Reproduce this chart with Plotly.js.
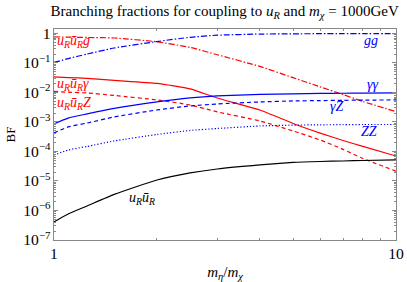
<!DOCTYPE html>
<html><head><meta charset="utf-8">
<script src="https://cdn.plot.ly/plotly-3.0.1.min.js"></script>
<style>html,body{margin:0;padding:0;background:#fff}#c{width:407px;height:282px}</style>
</head><body><div id="c"></div>
<script>
const ratio = [1, 1.1, 1.25, 1.5, 2, 2.5, 3, 4, 5, 6, 7, 8, 10];
const bfUUg   = [0.76, 0.75, 0.73, 0.70, 0.52, 0.335, 0.19, 0.076, 0.0317, 0.0155, 0.0085, 0.00495, 0.00224];
const bfGG    = [0.104, 0.14, 0.20, 0.32, 0.53, 0.74, 0.87, 0.95, 0.97, 0.98, 0.985, 0.988, 0.99];
const bfUUgam = [0.0335, 0.032, 0.030, 0.0255, 0.0202, 0.0132, 0.0065, 0.00255, 0.00089, 0.00042, 0.000236, 0.000148, 0.000070];
const bfUUZ   = [0.0108, 0.0102, 0.0096, 0.0079, 0.0056, 0.00377, 0.0022, 0.00108, 0.000495, 0.000245, 0.000118, 0.000058, 0.0000215];
const bfAA    = [0.00086, 0.00135, 0.00187, 0.00287, 0.00476, 0.0065, 0.0076, 0.00855, 0.0089, 0.00925, 0.0094, 0.0095, 0.0096];
const bfAZ    = [0.000424, 0.00068, 0.00092, 0.00148, 0.00255, 0.00349, 0.00407, 0.00476, 0.00515, 0.0053, 0.0054, 0.0055, 0.00557];
const bfZZ    = [0.000076, 0.000112, 0.000148, 0.000227, 0.000377, 0.000515, 0.00060, 0.00073, 0.00078, 0.00080, 0.00081, 0.00082, 0.00082];
const bfUU    = [4.1e-7, 7.6e-7, 1.42e-6, 3.5e-6, 1.08e-5, 1.87e-5, 2.55e-5, 3.49e-5, 4.24e-5, 4.58e-5, 4.76e-5, 4.95e-5, 5.15e-5];

const RED = '#ff0000', BLUE = '#0000ff';
const DD = '6px,2px,1.5px,2px', DA = '4px,3px', DO = '1.2px,2px';
function tr(y, color, dash) {
  return {x: ratio, y: y, type: 'scatter', mode: 'lines',
    line: {color: color, width: 1.2, dash: dash, shape: 'spline', smoothing: 0.5},
    hoverinfo: 'skip', showlegend: false};
}
const data = [
  tr(bfUUg, RED, DD), tr(bfUUgam, RED, 'solid'), tr(bfUUZ, RED, DA),
  tr(bfGG, BLUE, DD), tr(bfAA, BLUE, 'solid'), tr(bfAZ, BLUE, DA), tr(bfZZ, BLUE, DO),
  tr(bfUU, '#000000', 'solid')
];
const SERIF = 'Liberation Serif, DejaVu Serif, serif';
function ann(txt, x, y, color, xa) {
  return {text: '<i>' + txt + '</i>', x: x, y: y, xref: 'x', yref: 'y', showarrow: false,
    xanchor: xa || 'center', yanchor: 'middle', font: {family: SERIF, size: 14, color: color}};
}
const uR = 'u<sub>R</sub>', ubR = 'ū<sub>R</sub>';
const annotations = [
  ann(uR + ubR + 'g', 0.003, -0.27, RED, 'left'),
  ann(uR + ubR + 'γ', 0.003, -1.74, RED, 'left'),
  ann(uR + ubR + 'Z', 0.003, -2.36, RED, 'left'),
  ann('gg', 0.927, -0.25, BLUE),
  ann('γγ', 0.933, -1.74, BLUE),
  ann('γZ', 0.827, -2.47, BLUE),
  ann('ZZ', 0.921, -3.33, BLUE),
  ann(uR + ubR, 0.258, -5.58, '#000000')
];
const axCommon = {
  type: 'log', dtick: 1, exponentformat: 'power', ticks: 'inside', ticklen: 4, tickwidth: 1,
  tickcolor: '#888', showline: true, linecolor: '#888', linewidth: 1, mirror: 'ticks',
  showgrid: false, zeroline: false,
  tickfont: {family: SERIF, size: 12.5, color: '#000'},
  minor: {dtick: 'D1', ticks: 'inside', ticklen: 2, tickcolor: '#888', showgrid: false}
};
const layout = {
  width: 407, height: 282,
  margin: {l: 54, r: 11, t: 29, b: 42},
  paper_bgcolor: '#fff', plot_bgcolor: '#fff',
  title: {text: 'Branching fractions for coupling to <i>u<sub>R</sub></i> and <i>m<sub>χ</sub></i> = 1000GeV',
    font: {family: SERIF, size: 15, color: '#000'}, x: 0.552, xanchor: 'center', y: 0.963, yanchor: 'middle'},
  xaxis: Object.assign({}, axCommon, {range: [0, 1],
    title: {text: '<i>m<sub>η</sub></i>/<i>m<sub>χ</sub></i>', font: {family: SERIF, size: 15, color: '#000'}, standoff: 11}}),
  yaxis: Object.assign({}, axCommon, {range: [-7, 0.15],
    title: {text: 'BF', font: {family: SERIF, size: 13, color: '#000'}, standoff: 4}}),
  annotations: annotations
};
Plotly.newPlot('c', data, layout, {staticPlot: true, displayModeBar: false});
</script></body></html>
